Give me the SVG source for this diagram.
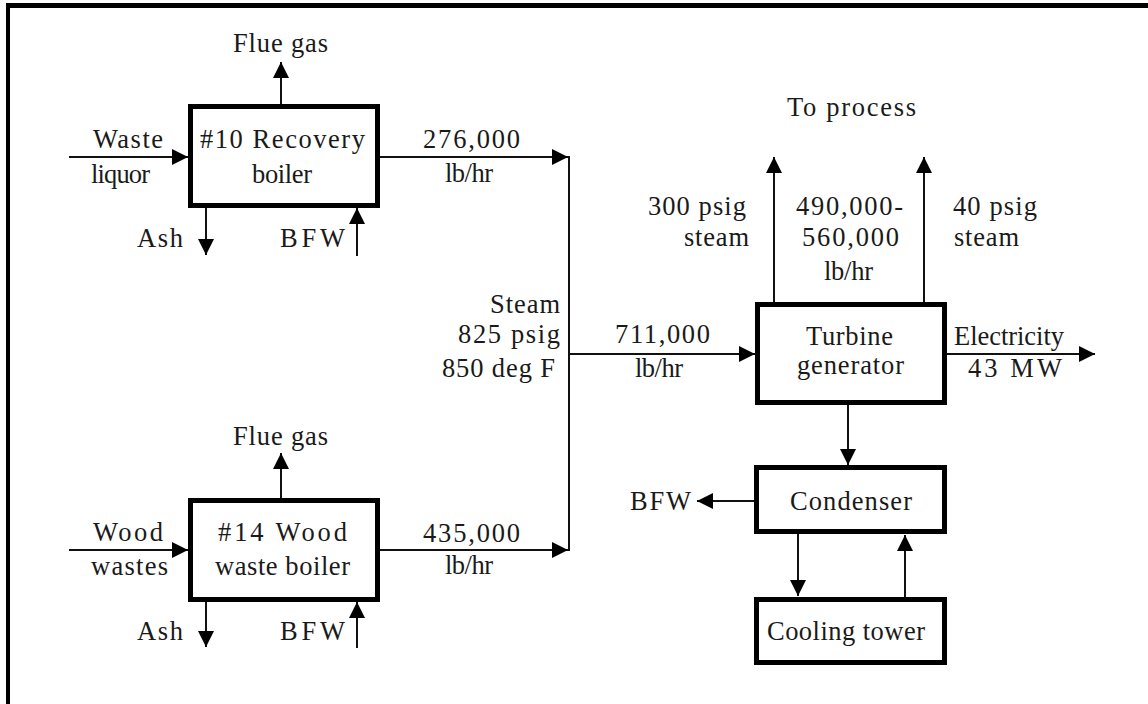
<svg xmlns="http://www.w3.org/2000/svg" width="1148" height="704" viewBox="0 0 1148 704">
<style>
.box{fill:#fff;stroke:#000;stroke-width:5}
.ln{fill:none;stroke:#111;stroke-width:2}
.ar{marker-end:url(#ah)}
text{font-family:"Liberation Serif","Times New Roman",serif;font-size:26.5px;fill:#1a1a1a}
</style>
<defs>
<marker id="ah" markerUnits="userSpaceOnUse" markerWidth="17" markerHeight="17" viewBox="0 0 17 17" refX="16" refY="8" orient="auto">
<path d="M0,0 L16,8 L0,16 z" fill="#000"/>
</marker>
</defs>
<rect width="1148" height="704" fill="#fff"/>
<g id="frame">
<line x1="6" y1="5.5" x2="1148" y2="5.5" stroke="#000" stroke-width="5"/>
<line x1="8" y1="3" x2="8" y2="704" stroke="#000" stroke-width="4"/>
</g>
<g id="connectors">
<line class="ln ar" x1="281" y1="104" x2="281" y2="62"/>
<line class="ln ar" x1="69" y1="157" x2="188" y2="157"/>
<line class="ln ar" x1="380" y1="157" x2="568" y2="157"/>
<line class="ln ar" x1="206" y1="208" x2="206" y2="255"/>
<line class="ln ar" x1="357" y1="256" x2="357" y2="208"/>
<line class="ln" x1="569" y1="156" x2="569" y2="551"/>
<line class="ln ar" x1="281" y1="498" x2="281" y2="453"/>
<line class="ln ar" x1="69" y1="550" x2="188" y2="550"/>
<line class="ln ar" x1="380" y1="550" x2="568" y2="550"/>
<line class="ln ar" x1="206" y1="602" x2="206" y2="647"/>
<line class="ln ar" x1="357" y1="648" x2="357" y2="602"/>
<line class="ln ar" x1="569" y1="354" x2="755" y2="354"/>
<line class="ln ar" x1="774" y1="302" x2="774" y2="157"/>
<line class="ln ar" x1="924" y1="302" x2="924" y2="157"/>
<line class="ln ar" x1="947" y1="354" x2="1095" y2="354"/>
<line class="ln ar" x1="848" y1="405" x2="848" y2="465"/>
<line class="ln ar" x1="754" y1="501" x2="697" y2="501"/>
<line class="ln ar" x1="798" y1="534" x2="798" y2="596"/>
<line class="ln ar" x1="905" y1="597" x2="905" y2="535"/>
</g>
<g id="recovery-boiler">
<rect class="box" x="190.5" y="106.5" width="187" height="99"/>
<text x="200" y="148" textLength="165" lengthAdjust="spacing">#10 Recovery</text>
<text x="252" y="183" textLength="60" lengthAdjust="spacing">boiler</text>
</g>
<g id="recovery-labels">
<text x="233" y="52" textLength="95" lengthAdjust="spacing">Flue gas</text>
<text x="93" y="148" textLength="70" lengthAdjust="spacing">Waste</text>
<text x="91" y="183" textLength="59" lengthAdjust="spacing">liquor</text>
<text x="423" y="148" textLength="97" lengthAdjust="spacing">276,000</text>
<text x="445" y="182" textLength="48" lengthAdjust="spacing">lb/hr</text>
<text x="137" y="247" textLength="46" lengthAdjust="spacing">Ash</text>
<text x="280" y="247" textLength="65" lengthAdjust="spacing">BFW</text>
</g>
<g id="wood-boiler">
<rect class="box" x="190.5" y="500.5" width="187" height="99"/>
<text x="218" y="541" textLength="129" lengthAdjust="spacing">#14 Wood</text>
<text x="215" y="575" textLength="135" lengthAdjust="spacing">waste boiler</text>
</g>
<g id="wood-labels">
<text x="233" y="445" textLength="95" lengthAdjust="spacing">Flue gas</text>
<text x="93" y="541" textLength="70" lengthAdjust="spacing">Wood</text>
<text x="91" y="575" textLength="77" lengthAdjust="spacing">wastes</text>
<text x="423" y="542" textLength="97" lengthAdjust="spacing">435,000</text>
<text x="445" y="574" textLength="48" lengthAdjust="spacing">lb/hr</text>
<text x="137" y="640" textLength="46" lengthAdjust="spacing">Ash</text>
<text x="280" y="640" textLength="65" lengthAdjust="spacing">BFW</text>
</g>
<g id="steam-labels">
<text x="490" y="313" textLength="70" lengthAdjust="spacing">Steam</text>
<text x="458" y="343" textLength="102" lengthAdjust="spacing">825 psig</text>
<text x="442" y="377" textLength="113" lengthAdjust="spacing">850 deg F</text>
<text x="615" y="343" textLength="95" lengthAdjust="spacing">711,000</text>
<text x="635" y="377" textLength="48" lengthAdjust="spacing">lb/hr</text>
</g>
<g id="turbine-generator">
<rect class="box" x="757.5" y="304.5" width="187" height="98"/>
<text x="806" y="345" textLength="87" lengthAdjust="spacing">Turbine</text>
<text x="797" y="374" textLength="107" lengthAdjust="spacing">generator</text>
</g>
<g id="process-labels">
<text x="787" y="116" textLength="129" lengthAdjust="spacing">To process</text>
<text x="648" y="215" textLength="98" lengthAdjust="spacing">300 psig</text>
<text x="684" y="246" textLength="65" lengthAdjust="spacing">steam</text>
<text x="796" y="215" textLength="107" lengthAdjust="spacing">490,000-</text>
<text x="802" y="246" textLength="97" lengthAdjust="spacing">560,000</text>
<text x="824" y="280" textLength="49" lengthAdjust="spacing">lb/hr</text>
<text x="953" y="215" textLength="84" lengthAdjust="spacing">40 psig</text>
<text x="954" y="246" textLength="65" lengthAdjust="spacing">steam</text>
<text x="954" y="345" textLength="110" lengthAdjust="spacing">Electricity</text>
<text x="968" y="377" textLength="94" lengthAdjust="spacing">43 MW</text>
</g>
<g id="condenser">
<rect class="box" x="756.5" y="467.5" width="188" height="64"/>
<text x="790" y="510" textLength="122" lengthAdjust="spacing">Condenser</text>
</g>
<text x="630" y="510" textLength="61" lengthAdjust="spacing">BFW</text>
<g id="cooling-tower">
<rect class="box" x="756.5" y="599.5" width="188" height="63"/>
<text x="767" y="640" textLength="158" lengthAdjust="spacing">Cooling tower</text>
</g>
</svg>
